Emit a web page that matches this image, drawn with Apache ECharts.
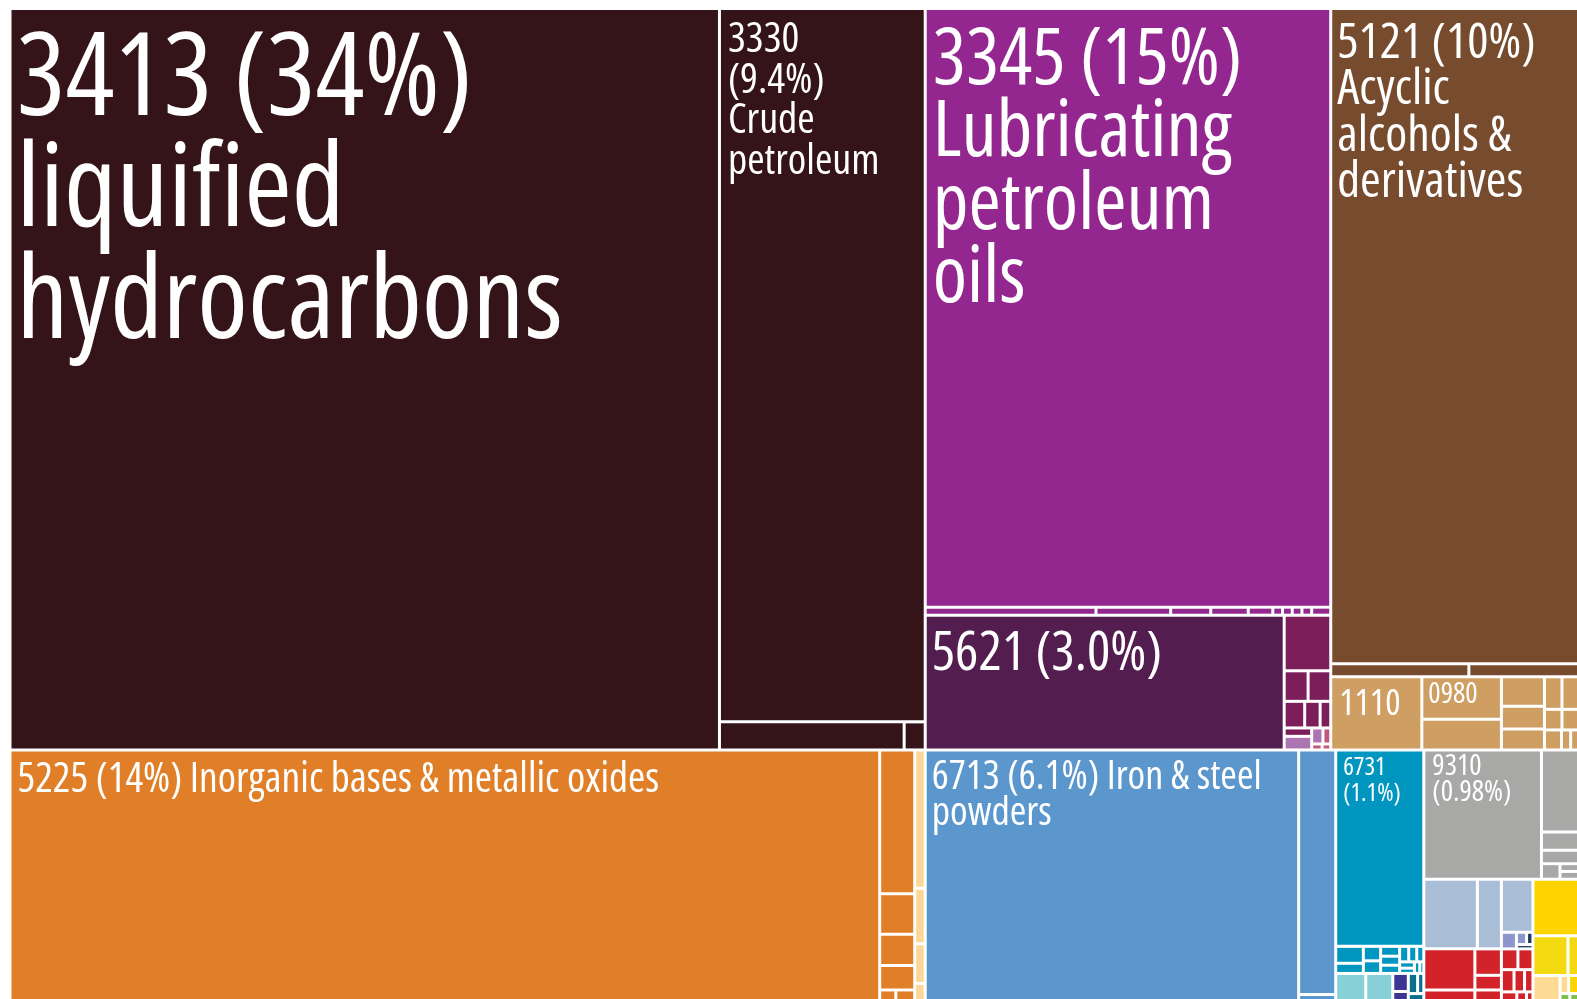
<!DOCTYPE html>
<html>
<head>
<meta charset="utf-8">
<script src="https://cdn.jsdelivr.net/npm/echarts/dist/echarts.min.js"></script>
<style>
html,body{margin:0;padding:0;background:#ffffff;overflow:hidden}
#chart{width:1577px;height:999px}
</style>
</head>
<body>
<div id="chart"></div>
<script>
// ---------------- DATA: export shares (% of total), read from tile areas ----------------
const fuelNames = ['3413', '3330', 'Fuel other A', 'Fuel other B'];
const fuelShares = [33.76, 9.42, 0.333, 0.038];

const inorgMainShare = 14.04;                       // 5225
const inorgColShares = [0.323, 0.0913, 0.0699];
const inorgTinyShares = [0.055, 0.012, 0.014];
const peachShares = [0.0933, 0.0375, 0.0267, 0.0122];

const lubeShare = 15.58;                            // 3345
const lubeStripShares = [0.0878, 0.0384, 0.0206, 0.0193, 0.0126, 0.005, 0.005, 0.005, 0.005, 0.0098];
const fertShare = 3.105;                            // 5621
const magentaTopShare = 0.1662;
const magentaShares = [0.0469, 0.0444, 0.0350, 0.0264, 0.0181, 0.0148];
const lilacShares = [0.0240, 0.0116];
const pinkShares = [0.008, 0.004, 0.0033];

const alcoholShare = 10.44;                         // 5121
const brownStripShares = [0.1155, 0.0921];
const beverageShare = 0.4278;                       // 1110
const foodPrepShares = [0.2176, 0.1562];            // 0980 + neighbour
const tanShares = [0.0817, 0.0623, 0.0581, 0.0366, 0.0356, 0.0231, 0.0225, 0.0219, 0.0118, 0.0107];

const ironShare = 6.029;                            // 6713
const blueColShares = [0.5814, 0.0167];

const wireShare = 1.1107;                           // 6731
const tealSmallShares = [0.030, 0.018, 0.016, 0.014, 0.012, 0.011, 0.010, 0.009, 0.008, 0.007, 0.006, 0.005, 0.004, 0.003];
const tealLightShares = [0.0541, 0.0487];
const indigoShares = [0.018, 0.010];
const darkTealShares = [0.012, 0.008, 0.0079];

const specialShare = 0.9761;                        // 9310
const grayShares = [0.198, 0.0436, 0.0325, 0.0185, 0.0095, 0.0095];
const steelShares = [0.2394, 0.1074, 0.1074];
const periShares = [0.016, 0.008];
const navyShares = [0.005, 0.0046];
const redTopShares = [0.1347, 0.0378];
const redShares = [0.045, 0.025, 0.0196, 0.022, 0.02, 0.018, 0.015, 0.012, 0.0095, 0.006, 0.004];
const yellowShares = [0.1674, 0.0891, 0.028];
const paleShares = [0.0452, 0.01];
const yellowSmallShares = [0.012];
const greenShares = [0.005, 0.0047];

// label texts (as printed on the tiles)
const labeledCodes  = ['3413', '3330', '3345', '5121', '5225', '5621', '6713', '6731', '9310', '1110', '0980'];
const labeledPcts   = ['34%', '9.4%', '15%', '10%', '14%', '3.0%', '6.1%', '1.1%', '0.98%', '', ''];
const labeledNames  = ['liquified hydrocarbons', 'Crude petroleum', 'Lubricating petroleum oils',
  'Acyclic alcohols & derivatives', 'Inorganic bases & metallic oxides', '', 'Iron & steel powders', '', '', '', ''];

// ---------------- STYLE ----------------
const FONT = '"Open Sans", "Roboto Condensed", "DejaVu Sans Condensed", sans-serif';
const STRETCH = 'condensed';   // goes into the canvas font shorthand
const C = {
  dark: '#341418', orange: '#e07f27', peach: '#fcd797',
  purple: '#93278f', purpleDark: '#541d4f', magenta: '#7b1e5a', lilac: '#ad74b2', pink: '#c2577b',
  brown: '#774b2d', tan: '#cf9e62',
  blue: '#5b96cd', teal: '#0096c0', tealLight: '#88d0d7', indigo: '#3d3593', darkTeal: '#0a6f8f',
  gray: '#a8a8a7', steel: '#a9bdd7', peri: '#8c95cc', navy: '#1b3b5d', red: '#d2232a',
  yellow: '#fdd400', yellow2: '#f3d90f', pale: '#fddb94', green: '#7cbf50'
};
// per-label typography: size, line height, padding, wrap = words of name per line (first entry on code line)
const labelLook = {
  '3413': { size: 115, lh: 111.5, pad: [16, 0, 0, 5], wrap: [0, 1, 1] },
  '3330': { size: 42, lh: 40.5, pad: [10, 0, 0, 7], wrap: [0, 1, 1], split: true },
  '3345': { size: 78, lh: 72.7, pad: [15, 0, 0, 6], wrap: [0, 1, 1, 1] },
  '5121': { size: 50, lh: 46.6, pad: [10, 0, 0, 5], wrap: [0, 1, 2, 1] },
  '5225': { size: 41.5, lh: 44, pad: [7, 0, 0, 6], wrap: [5] },
  '5621': { size: 55, lh: 57, pad: [9, 0, 0, 5], wrap: [0] },
  '6713': { size: 40, lh: 35.2, pad: [9, 0, 0, 5], wrap: [3, 1] },
  '6731': { size: 25, lh: 26, pad: [3, 0, 0, 6], wrap: [0], split: true },
  '9310': { size: 29, lh: 26, pad: [2, 0, 0, 7], wrap: [0], split: true },
  '1110': { size: 36, lh: 36, pad: [8, 0, 0, 7], wrap: [0] },
  '0980': { size: 29, lh: 29, pad: [2, 0, 0, 5], wrap: [0] }
};

function labelFor(code) {
  const i = labeledCodes.indexOf(code);
  const look = labelLook[code];
  const words = labeledNames[i] ? labeledNames[i].split(' ') : [];
  const pct = labeledPcts[i] ? '(' + labeledPcts[i] + ')' : '';
  const lines = [];
  let k = 0;
  look.wrap.forEach(function (n, j) {
    const part = words.slice(k, k + n).join(' ');
    k += n;
    if (j === 0) {
      if (look.split) { lines.push(code); if (pct) lines.push(pct); if (part) lines.push(part); }
      else lines.push([code, pct, part].filter(Boolean).join(' '));
    } else lines.push(part);
  });
  return {
    show: true, formatter: lines.join('\n'), fontSize: look.size, lineHeight: look.lh,
    padding: look.pad, position: 'insideTopLeft', color: '#ffffff', fontFamily: FONT,
    fontStyle: 'normal', fontWeight: STRETCH, overflow: 'none'
  };
}

let auto = 0;
function leaf(name, value, color) {
  const node = { name: name || ('item ' + (++auto)), value: value,
    itemStyle: { color: color, borderColor: '#ffffff', borderWidth: 1.5 } };
  if (labeledCodes.indexOf(name) >= 0) node.label = labelFor(name);
  return node;
}
function group(children, color) {
  return { name: 'group ' + (++auto), children: children,
    itemStyle: { color: color || '#ffffff', borderWidth: 0, gapWidth: 0, borderColor: '#ffffff' } };
}
const many = (arr, color) => arr.map(v => leaf('', v, color));

// ---------------- TREE ----------------
const darkGroup = group([
  leaf(fuelNames[0], fuelShares[0], C.dark),
  leaf(fuelNames[1], fuelShares[1], C.dark),
  leaf(fuelNames[2], fuelShares[2], C.dark),
  leaf(fuelNames[3], fuelShares[3], C.dark)
], C.dark);

const orangeGroup = group([
  group([
    leaf('5225', inorgMainShare, C.orange),
    group([...many(inorgColShares, C.orange), group(many(inorgTinyShares, C.orange), C.orange)], C.orange)
  ], C.orange),
  group(many(peachShares, C.peach), C.peach)
], C.orange);

const purpleGroup = group([
  group([leaf('3345', lubeShare, C.purple), group(many(lubeStripShares, C.purple), C.purple)], C.purple),
  group([
    leaf('5621', fertShare, C.purpleDark),
    group([
      leaf('', magentaTopShare, C.magenta),
      group([...many(magentaShares, C.magenta), ...many(lilacShares, C.lilac), ...many(pinkShares, C.pink)], C.magenta)
    ], C.magenta)
  ], C.purpleDark)
], C.purple);

const brownGroup = group([
  group([leaf('5121', alcoholShare, C.brown), group(many(brownStripShares, C.brown), C.brown)], C.brown),
  group([
    leaf('1110', beverageShare, C.tan),
    group([leaf('0980', foodPrepShares[0], C.tan), leaf('', foodPrepShares[1], C.tan)], C.tan),
    group(many(tanShares, C.tan), C.tan)
  ], C.tan)
], C.brown);

const blueGroup = group([leaf('6713', ironShare, C.blue), group(many(blueColShares, C.blue), C.blue)], C.blue);

const tealGroup = group([
  group([leaf('6731', wireShare, C.teal), group(many(tealSmallShares, C.teal), C.teal)], C.teal),
  group([...many(tealLightShares, C.tealLight), ...many(indigoShares, C.indigo), ...many(darkTealShares, C.darkTeal)], C.tealLight)
], C.teal);

const restGroup = group([
  group([
    leaf('9310', specialShare, C.gray),
    group([
      leaf('', grayShares[0], C.gray),
      group(many(grayShares.slice(1, 3), C.gray), C.gray),
      group(many(grayShares.slice(3), C.gray), C.gray)
    ], C.gray)
  ], C.gray),
  group([
    group([
      leaf('', steelShares[0], C.steel), leaf('', steelShares[1], C.steel),
      group([leaf('', steelShares[2], C.steel), ...many(periShares, C.peri), ...many(navyShares, C.navy)], C.steel)
    ], C.steel),
    group([group(many(redTopShares, C.red), C.red), group(many(redShares, C.red), C.red)], C.red),
    group([
      leaf('', yellowShares[0], C.yellow),
      group(many(yellowShares.slice(1), C.yellow2), C.yellow2),
      group([...many(paleShares, C.pale), ...many(yellowSmallShares, C.yellow), ...many(greenShares, C.green)], C.pale)
    ], C.yellow)
  ], C.steel)
], C.gray);

const chart = echarts.init(document.getElementById('chart'), null, { renderer: 'canvas', devicePixelRatio: 1 });
chart.setOption({
  animation: false,
  series: [{
    type: 'treemap',
    left: 10, top: 8.5, width: 1569, height: 993,
    sort: false,
    roam: false,
    nodeClick: false,
    breadcrumb: { show: false },
    visibleMin: 0,
    squareRatio: 0.5 * (1 + Math.sqrt(5)),
    itemStyle: { borderWidth: 0, gapWidth: 0, borderColor: '#ffffff' },
    label: { show: false, position: 'insideTopLeft', color: '#ffffff', overflow: 'none' },
    upperLabel: { show: false },
    emphasis: { disabled: true },
    data: [darkGroup, orangeGroup, purpleGroup, brownGroup, blueGroup, tealGroup, restGroup]
  }]
});
</script>
</body>
</html>
